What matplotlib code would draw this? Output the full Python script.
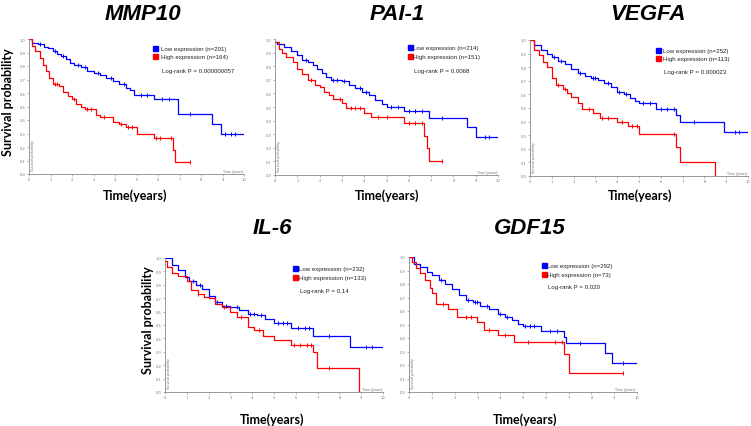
import numpy as np
import matplotlib
matplotlib.use("Agg")
import matplotlib.pyplot as plt

# ---------------- data ----------------
genes = ["MMP10", "PAI-1", "VEGFA", "IL-6", "GDF15"]
low_labels = ["Low expression (n=201)", "Low expression (n=214)", "Low expression (n=252)",
              "Low expression (n=232)", "Low expression (n=292)"]
high_labels = ["High expression (n=164)", "High expression (n=151)", "High expression (n=113)",
               "High expression (n=133)", "High expression (n=73)"]
pvals = ["Log-rank P = 0.000000057", "Log-rank P = 0.0068", "Log-rank P = 0.000023",
         "Log-rank P = 0.14", "Log-rank P = 0.020"]

# MMP10
mmp10_low_t = [0, 0.15, 0.4, 0.7, 0.9, 1.1, 1.3, 1.5, 1.7, 1.9, 2.1, 2.4, 2.7, 3.0, 3.3, 3.6, 3.9, 4.2, 4.5, 4.7, 4.9, 5.8, 6.95, 8.5, 8.95, 10.0]
mmp10_low_s = [1.0, 0.97, 0.96, 0.94, 0.93, 0.91, 0.89, 0.875, 0.85, 0.825, 0.81, 0.79, 0.765, 0.75, 0.73, 0.71, 0.69, 0.665, 0.64, 0.62, 0.585, 0.555, 0.445, 0.37, 0.30, 0.30]
mmp10_high_t = [0, 0.15, 0.3, 0.5, 0.65, 0.8, 0.95, 1.1, 1.4, 1.6, 1.8, 2.0, 2.2, 2.4, 2.6, 3.1, 3.3, 3.9, 4.2, 4.5, 5.0, 5.8, 6.7, 6.8, 7.5]
mmp10_high_s = [1.0, 0.95, 0.91, 0.86, 0.81, 0.76, 0.71, 0.67, 0.65, 0.61, 0.58, 0.555, 0.52, 0.5, 0.48, 0.44, 0.42, 0.385, 0.37, 0.345, 0.30, 0.265, 0.175, 0.09, 0.09]
mmp10_low_c = [0.5, 1.2, 1.6, 2.3, 2.6, 3.2, 3.8, 4.4, 5.2, 5.5, 6.2, 6.5, 7.5, 9.1, 9.4, 9.6]
mmp10_high_c = [1.2, 1.3, 2.1, 2.7, 2.9, 3.5, 4.3, 4.6, 4.8, 5.9, 6.1, 6.6, 7.5]

# PAI-1
pai1_low_t = [0, 0.1, 0.4, 0.7, 1.0, 1.2, 1.5, 1.7, 1.9, 2.1, 2.3, 2.5, 3.0, 3.3, 3.6, 3.9, 4.2, 4.5, 4.8, 5.0, 5.8, 6.9, 8.6, 9.0, 10.0]
pai1_low_s = [0.98, 0.96, 0.94, 0.91, 0.88, 0.845, 0.83, 0.81, 0.78, 0.75, 0.72, 0.70, 0.69, 0.665, 0.64, 0.61, 0.585, 0.555, 0.525, 0.50, 0.47, 0.42, 0.35, 0.28, 0.28]
pai1_high_t = [0, 0.2, 0.3, 0.5, 0.8, 1.0, 1.2, 1.5, 1.8, 2.0, 2.2, 2.4, 2.6, 3.0, 3.2, 4.0, 4.3, 5.8, 6.7, 6.8, 6.9, 7.5]
pai1_high_s = [0.98, 0.93, 0.9, 0.87, 0.83, 0.78, 0.74, 0.70, 0.665, 0.65, 0.61, 0.585, 0.56, 0.53, 0.49, 0.455, 0.43, 0.385, 0.29, 0.195, 0.10, 0.10]
pai1_low_c = [1.4, 2.6, 2.8, 3.1, 3.8, 4.1, 5.2, 5.5, 6.0, 6.3, 6.6, 7.5, 9.4, 9.6]
pai1_high_c = [1.6, 2.9, 3.4, 3.6, 3.8, 4.6, 5.0, 6.0, 6.3, 6.6, 7.5]

# VEGFA
vegfa_low_t = [0, 0.2, 0.5, 0.8, 1.0, 1.3, 1.6, 1.9, 2.2, 2.5, 2.8, 3.1, 3.4, 3.7, 4.0, 4.3, 4.6, 4.8, 5.0, 5.8, 6.7, 6.9, 8.9, 10.0]
vegfa_low_s = [1.0, 0.96, 0.93, 0.9, 0.875, 0.845, 0.82, 0.79, 0.755, 0.735, 0.72, 0.705, 0.685, 0.655, 0.615, 0.6, 0.57, 0.55, 0.535, 0.49, 0.45, 0.40, 0.32, 0.32]
vegfa_high_t = [0, 0.2, 0.4, 0.6, 0.8, 1.0, 1.2, 1.5, 1.7, 1.9, 2.2, 2.4, 2.9, 3.2, 4.0, 4.5, 5.0, 6.7, 6.9, 8.5, 8.5]
vegfa_high_s = [1.0, 0.93, 0.89, 0.84, 0.8, 0.72, 0.67, 0.64, 0.61, 0.58, 0.54, 0.49, 0.46, 0.43, 0.40, 0.37, 0.31, 0.21, 0.105, 0.0, 0.0]
vegfa_low_c = [1.1, 1.4, 2.3, 2.9, 3.0, 3.6, 4.1, 4.4, 5.2, 5.5, 6.0, 6.3, 6.6, 7.5, 9.4, 9.6]
vegfa_high_c = [1.3, 1.6, 2.7, 3.3, 3.6, 4.2, 4.7, 4.9, 6.6]

# IL-6
il6_low_t = [0, 0.3, 0.6, 0.9, 1.1, 1.4, 1.7, 2.0, 2.3, 2.6, 3.0, 3.4, 3.8, 4.2, 4.6, 5.0, 5.8, 6.8, 8.5, 10.0]
il6_low_s = [1.0, 0.95, 0.91, 0.86, 0.83, 0.80, 0.765, 0.72, 0.675, 0.645, 0.635, 0.61, 0.585, 0.575, 0.545, 0.515, 0.48, 0.415, 0.333, 0.333]
il6_high_t = [0, 0.1, 0.3, 0.6, 1.0, 1.2, 1.5, 1.8, 2.0, 2.3, 2.6, 3.0, 3.3, 3.8, 4.1, 4.5, 5.0, 5.8, 6.8, 6.95, 8.9, 8.9]
il6_high_s = [0.98, 0.93, 0.89, 0.865, 0.83, 0.76, 0.73, 0.71, 0.70, 0.66, 0.635, 0.60, 0.56, 0.485, 0.46, 0.42, 0.385, 0.35, 0.30, 0.18, 0.0, 0.0]
il6_low_c = [1.3, 1.6, 2.4, 2.8, 3.3, 3.9, 4.1, 4.4, 5.2, 5.4, 5.6, 6.1, 6.4, 6.6, 7.5, 9.2, 9.5]
il6_high_c = [1.5, 2.7, 3.5, 4.3, 5.9, 6.2, 6.5, 6.7, 7.5]

# GDF15
gdf15_low_t = [0, 0.2, 0.5, 0.8, 1.0, 1.3, 1.6, 1.9, 2.2, 2.5, 2.8, 3.1, 3.5, 3.9, 4.2, 4.5, 4.8, 5.0, 5.8, 6.8, 6.9, 8.6, 8.9, 10.0]
gdf15_low_s = [1.0, 0.95, 0.925, 0.89, 0.87, 0.83, 0.80, 0.76, 0.72, 0.685, 0.665, 0.64, 0.615, 0.58, 0.555, 0.53, 0.505, 0.49, 0.45, 0.41, 0.36, 0.29, 0.215, 0.215]
gdf15_high_t = [0, 0.15, 0.3, 0.5, 0.7, 0.9, 1.0, 1.2, 1.7, 2.1, 3.0, 3.3, 3.9, 4.6, 6.8, 7.0, 9.4]
gdf15_high_s = [1.0, 0.96, 0.92, 0.88, 0.83, 0.77, 0.73, 0.655, 0.615, 0.555, 0.52, 0.457, 0.42, 0.37, 0.28, 0.14, 0.14]
gdf15_low_c = [1.4, 2.6, 2.9, 3.0, 3.4, 4.0, 4.3, 5.1, 5.3, 5.5, 6.2, 6.5, 7.5, 9.4]
gdf15_high_c = [1.5, 2.5, 2.7, 3.5, 4.2, 5.2, 6.4, 6.7, 9.4]

low_t = [mmp10_low_t, pai1_low_t, vegfa_low_t, il6_low_t, gdf15_low_t]
low_s = [mmp10_low_s, pai1_low_s, vegfa_low_s, il6_low_s, gdf15_low_s]
high_t = [mmp10_high_t, pai1_high_t, vegfa_high_t, il6_high_t, gdf15_high_t]
high_s = [mmp10_high_s, pai1_high_s, vegfa_high_s, il6_high_s, gdf15_high_s]
low_c = [mmp10_low_c, pai1_low_c, vegfa_low_c, il6_low_c, gdf15_low_c]
high_c = [mmp10_high_c, pai1_high_c, vegfa_high_c, il6_high_c, gdf15_high_c]

x_ticks = list(range(0, 11))
y_ticks = [round(0.1 * i, 1) for i in range(11)]

# ---------------- layout (pixels: left, top, right, bottom) ----------------
W, H = 751, 427
boxes = [(29, 40, 244, 175), (275, 40, 498, 176), (530, 41, 748, 177),
         (165, 259, 383, 393), (409, 258, 637, 393)]
legend_pos = [(0.577, 0.614, 0.933, 0.874, 0.77),
              (0.596, 0.619, 0.94, 0.875, 0.77),
              (0.58, 0.61, 0.926, 0.867, 0.77),
              (0.587, 0.615, 0.925, 0.858, 0.76),
              (0.583, 0.605, 0.94, 0.874, 0.78)]

BLUE = "#0000ff"
RED = "#ff0000"

fig = plt.figure(figsize=(W / 100, H / 100), dpi=100)
fig.patch.set_facecolor("white")


def step_val(t, s, x):
    t = np.asarray(t)
    s = np.asarray(s)
    idx = np.searchsorted(t, x, side="right") - 1
    idx = np.clip(idx, 0, len(s) - 1)
    return s[idx]


for i, g in enumerate(genes):
    l, tp, r, b = boxes[i]
    ax = fig.add_axes([l / W, 1 - b / H, (r - l) / W, (b - tp) / H])
    ax.step(low_t[i], low_s[i], where="post", color=BLUE, lw=0.9)
    ax.step(high_t[i], high_s[i], where="post", color=RED, lw=0.9)
    lc = np.asarray(low_c[i])
    hc = np.asarray(high_c[i])
    ax.plot(lc, step_val(low_t[i], low_s[i], lc), ls="none", marker="|", ms=3, mew=0.7, color=BLUE)
    ax.plot(hc, step_val(high_t[i], high_s[i], hc), ls="none", marker="|", ms=3, mew=0.7, color=RED)

    ax.set_xlim(0, 10)
    ax.set_ylim(0, 1.0)
    ax.set_xticks(x_ticks)
    ax.set_yticks(y_ticks)
    ax.set_xticklabels([str(v) for v in x_ticks])
    ax.set_yticklabels([f"{v:.1f}" for v in y_ticks])
    ax.tick_params(labelsize=2.6, colors="#777777", length=1.5, width=0.4, pad=1)
    for sp in ["top", "right"]:
        ax.spines[sp].set_visible(False)
    for sp in ["left", "bottom"]:
        ax.spines[sp].set_color("#888888")
        ax.spines[sp].set_linewidth(0.6)
    ax.patch.set_alpha(0)

    # tiny internal labels
    ax.text(0.01, 0.03, "Survival probability", rotation=90, fontsize=2.6, color="#777777",
            transform=ax.transAxes, ha="left", va="bottom", family="Liberation Sans")
    ax.text(0.995, 0.01, "Time (years)", fontsize=2.6, color="#777777",
            transform=ax.transAxes, ha="right", va="bottom", family="Liberation Sans")

    # legend
    sx, tx, y1, y2, y3 = legend_pos[i]
    ax.plot([sx + 0.008], [y1], marker="s", ms=3.6, color=BLUE, transform=ax.transAxes, clip_on=False)
    ax.plot([sx + 0.008], [y2], marker="s", ms=3.6, color=RED, transform=ax.transAxes, clip_on=False)
    ax.text(tx, y1, low_labels[i], fontsize=4.4, transform=ax.transAxes, va="center", ha="left",
            family="Liberation Sans", color="#222222")
    ax.text(tx, y2, high_labels[i], fontsize=4.4, transform=ax.transAxes, va="center", ha="left",
            family="Liberation Sans", color="#222222")
    ax.text(tx + 0.005, y3, pvals[i], fontsize=4.4, transform=ax.transAxes, va="center", ha="left",
            family="Liberation Sans", color="#222222")

# titles
title_pos = [(143, 15), (397, 15), (648, 15), (272, 229), (530, 229)]
for g, (x, y) in zip(genes, title_pos):
    fig.text(x / W, 1 - y / H, g, fontsize=16, fontweight="bold", fontstyle="italic",
             family="Liberation Sans", ha="center", va="center")

# x labels
xl_pos = [(135, 196), (387, 196), (640, 196), (272, 420), (525, 420)]
for x, y in xl_pos:
    fig.text(x / W, 1 - y / H, "Time(years)", fontsize=9, fontweight="bold",
             family="Lato", ha="center", va="center")

# y labels
yl_pos = [(8, 102), (148, 320)]
for x, y in yl_pos:
    fig.text(x / W, 1 - y / H, "Survival probability", fontsize=9, fontweight="bold",
             family="Lato", ha="center", va="center", rotation=90)

fig.savefig("out.png", dpi=100)
